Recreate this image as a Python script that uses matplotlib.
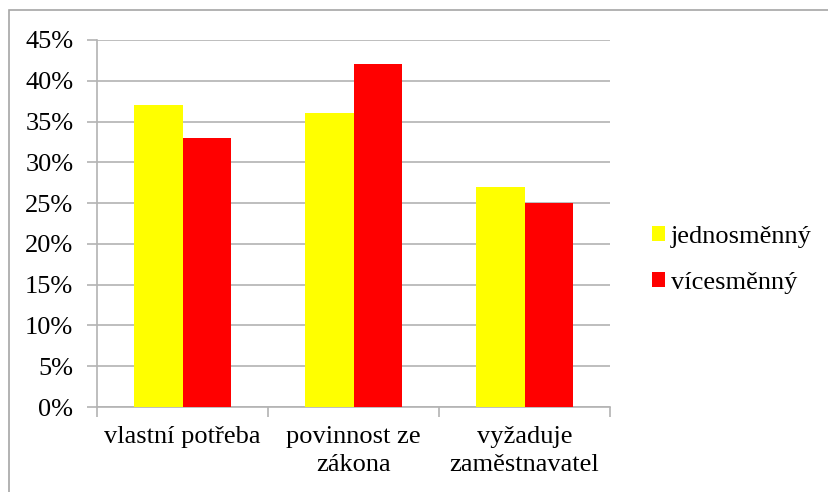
import matplotlib.pyplot as plt
import matplotlib.patches as mpatches
import numpy as np

categories = ['vlastní potřeba', 'povinnost ze\nzákona', 'vyžaduje\nzaměstnavatel']
jednosmenny = [37, 36, 27]
vicesmenny = [33, 42, 25]
series_names = ['jednosměnný', 'vícesměnný']

plt.rcParams['font.family'] = ['Liberation Serif', 'DejaVu Serif']

W, H = 829, 492
fig = plt.figure(figsize=(W / 100, H / 100), dpi=100)
ax = fig.add_axes([97 / W, 1 - 407 / H, (610 - 97) / W, (407 - 40) / H])

grid_col = '#b3b3b3'
fs = 19
x = np.arange(len(categories))
bw = 1 / 3.5
ax.bar(x - bw / 2, jednosmenny, bw, color='#ffff00', label=series_names[0], zorder=3)
ax.bar(x + bw / 2, vicesmenny, bw, color='#ff0000', label=series_names[1], zorder=3)

ax.set_xlim(-0.5, len(categories) - 0.5)
ax.set_ylim(0, 45)
ax.set_yticks(range(0, 50, 5))
ax.set_yticklabels([f'{v}%' for v in range(0, 50, 5)], fontsize=fs)
ax.yaxis.grid(True, color=grid_col, linewidth=1.2, zorder=0)
ax.tick_params(axis='y', length=7, color=grid_col, width=1.2, pad=10)

# category labels centred, tick marks between categories
ax.set_xticks(x)
ax.set_xticklabels(categories, fontsize=fs, linespacing=1.3)
ax.tick_params(axis='x', length=0, pad=14)
ax.set_xticks(np.arange(-0.5, len(categories)), minor=True)
ax.tick_params(axis='x', which='minor', length=7, color=grid_col, width=1.2)

for s in ['top', 'right']:
    ax.spines[s].set_visible(False)
for s in ['left', 'bottom']:
    ax.spines[s].set_color(grid_col)
    ax.spines[s].set_linewidth(1.2)

fig.legend(loc='center left', bbox_to_anchor=(639 / W, 1 - 260 / H), frameon=False,
           fontsize=fs, handlelength=0.5, handleheight=0.5, handletextpad=0.2,
           labelspacing=0.9, borderpad=0)

# chart area frame (only top and left edges fall inside the image)
fig.patches.append(mpatches.Rectangle((9 / W, -0.1), 1.2, 1.1 - 10 / H,
                                      transform=fig.transFigure, fill=False,
                                      edgecolor='#a6a6a6', linewidth=1.2))

fig.savefig('out.png', dpi=100)
